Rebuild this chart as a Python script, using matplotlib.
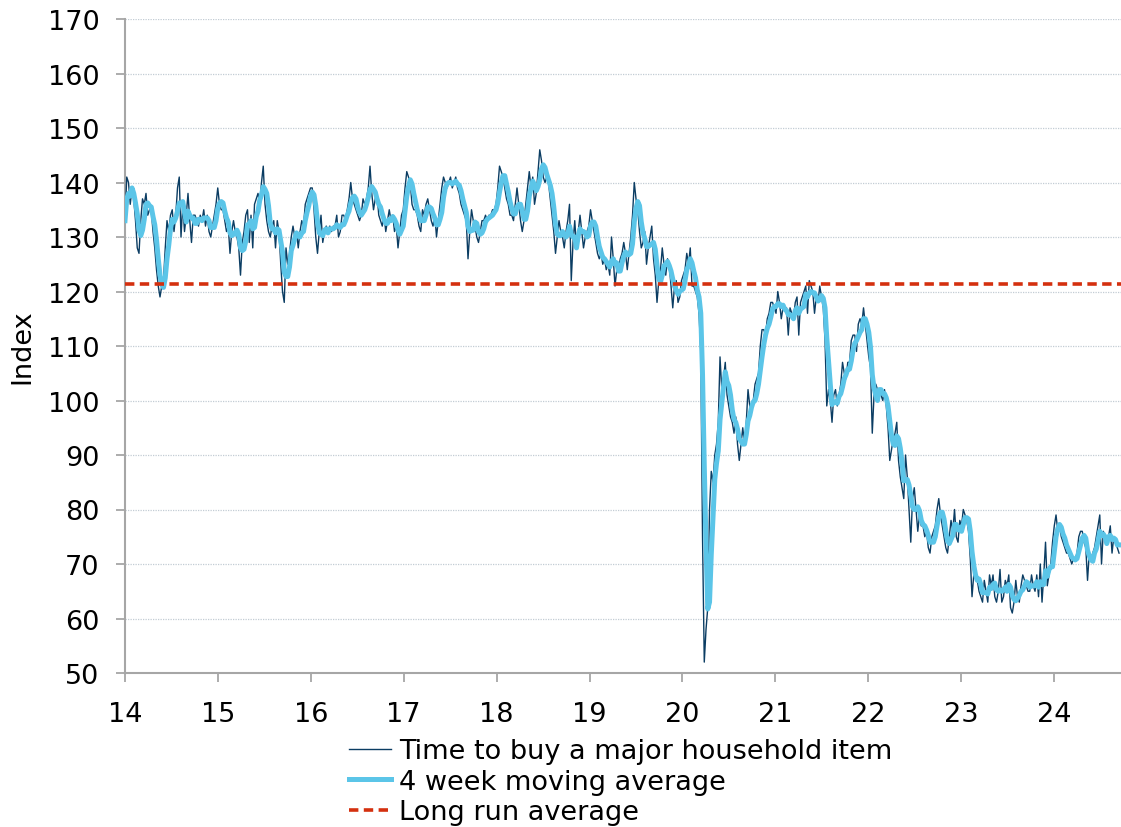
import numpy as np
import pandas as pd
import matplotlib
matplotlib.use("Agg")
import matplotlib.pyplot as plt

# Weekly index readings, split by period
vals_a = [133,141,140,136,139,137,133,128,127,133,
          137,136,138,134,135,135,131,128,124,121,
          119,121,122,128,133,131,134,135,131,134,
          139,141,130,136,131,134,138,133,129,134,
          134,133,132,134,133,135,132,134,131,130,
          132,134]
vals_b = [136,139,136,135,135,133,131,132,127,131,
          133,131,130,128,123,129,131,134,135,129,
          134,128,136,137,138,136,140,143,136,133,
          131,130,132,133,128,133,131,125,120,118,
          128,125,127,130,132,130,131,128,131,133,
          132,136]
vals_c = [137,138,139,139,135,130,127,131,134,129,
          131,132,131,132,131,132,132,134,130,131,
          134,134,133,135,137,140,137,136,135,134,
          133,134,137,136,137,139,143,138,135,137,
          138,134,133,132,134,131,133,135,133,134,
          131,132]
vals_d = [128,131,134,135,139,142,141,140,136,135,
          135,134,132,131,135,134,136,137,135,133,
          132,134,130,133,136,139,141,140,139,140,
          141,139,140,141,139,138,136,135,134,133,
          126,131,135,133,132,130,129,131,133,133,
          134,133]
vals_e = [134,134,135,135,136,139,143,142,141,139,
          137,136,134,134,133,136,139,136,133,131,
          133,136,139,142,139,141,136,138,142,146,
          144,141,140,141,140,137,134,131,127,130,
          133,131,130,128,131,133,136,122,129,133,
          128,131]
vals_f = [134,131,128,130,131,132,135,133,131,129,
          127,126,127,125,126,124,125,123,130,126,
          121,124,124,126,127,129,127,124,127,130,
          134,140,137,135,131,128,129,131,125,128,
          130,132,126,123,118,122,124,128,125,123,
          126,125]
vals_g = [121,117,121,122,118,119,122,123,124,127,
          125,128,121,121,120,119,116,109,75,52,
          58,62,80,87,85,90,92,96,108,102,
          104,107,101,99,97,96,94,97,92,89,
          92,95,92,96,102,99,98,100,103,104,
          105,110]
vals_h = [113,113,112,115,116,118,118,117,116,120,
          118,115,117,117,117,112,117,116,115,118,
          119,112,118,119,120,121,116,122,121,120,
          116,119,118,121,119,117,111,99,102,100,
          96,101,102,99,101,103,107,105,104,107,
          107,111]
vals_i = [112,112,109,114,115,114,117,114,111,108,
          106,94,101,103,102,102,101,100,102,99,
          95,89,91,93,94,96,89,86,84,82,
          90,86,80,74,82,84,80,76,79,77,
          77,75,76,73,72,75,76,77,80,82,
          79,77]
vals_j = [75,73,72,75,78,76,80,75,74,78,
          77,80,79,78,76,71,64,68,69,67,
          65,64,63,67,65,63,68,66,68,64,
          63,65,69,63,64,67,66,68,62,61,
          63,67,64,63,66,68,67,66,65,65,
          68,66]
vals_k = [65,68,64,70,63,68,74,66,68,70,
          74,77,79,76,77,75,74,73,72,72,
          71,70,71,71,72,75,76,76,74,73,
          67,72,71,72,73,75,77,79,70,76,
          75,74,75,77,72,75,74,73,72]

long_run_average = 121.4
start_year = 14.0
end_year = 24.70
x_ticks = list(range(14, 25))
y_ticks = list(range(50, 171, 10))
labels = ["Time to buy a major household item", "4 week moving average", "Long run average"]

weekly = np.array(vals_a + vals_b + vals_c + vals_d + vals_e + vals_f +
                  vals_g + vals_h + vals_i + vals_j + vals_k, dtype=float)
dates = np.linspace(start_year, end_year, len(weekly))
ma4 = pd.Series(weekly).rolling(4, min_periods=1).mean().to_numpy()

FS = 19.5
plt.rcParams['font.family'] = ['DejaVu Sans']
fig = plt.figure(figsize=(11.21, 8.28), dpi=100)
ax = fig.add_axes([125/1121, 154/828, (1121-125)/1121, (674-20)/828])

l1, = ax.plot(dates, weekly, color="#0b3d63", lw=1.0, zorder=3)
l2, = ax.plot(dates, ma4, color="#5bc5e8", lw=3.6, zorder=4)
l3 = ax.axhline(long_run_average, color="#d4300f", lw=2.6, dashes=(2.6, 1.5), zorder=5)

ax.set_xlim(14, 14 + (1121-125)/92.9)
ax.set_ylim(50, 170)
ax.set_xticks(x_ticks)
ax.set_yticks(y_ticks)
ax.yaxis.grid(True, color="#c3ccd4", linestyle=(0, (1, 1)), lw=0.9)
ax.set_axisbelow(True)
for s in ["top", "right"]:
    ax.spines[s].set_visible(False)
for s in ["left", "bottom"]:
    ax.spines[s].set_color("#a6a6a6")
    ax.spines[s].set_linewidth(1.5)
ax.tick_params(axis="both", colors="#a6a6a6", length=6.5, width=1.3, labelsize=FS,
               labelcolor="black")
ax.tick_params(axis="x", pad=14)
ax.tick_params(axis="y", pad=12)
ax.set_ylabel("Index", fontsize=FS, labelpad=9)

fig.legend([l1, l2, l3], labels, loc="upper left",
           bbox_to_anchor=(349/1121, 1 - 739/828), frameon=False, fontsize=FS,
           handlelength=1.55, handletextpad=0.3, labelspacing=0.17,
           borderpad=0, borderaxespad=0)

fig.savefig("out.png", dpi=100)
